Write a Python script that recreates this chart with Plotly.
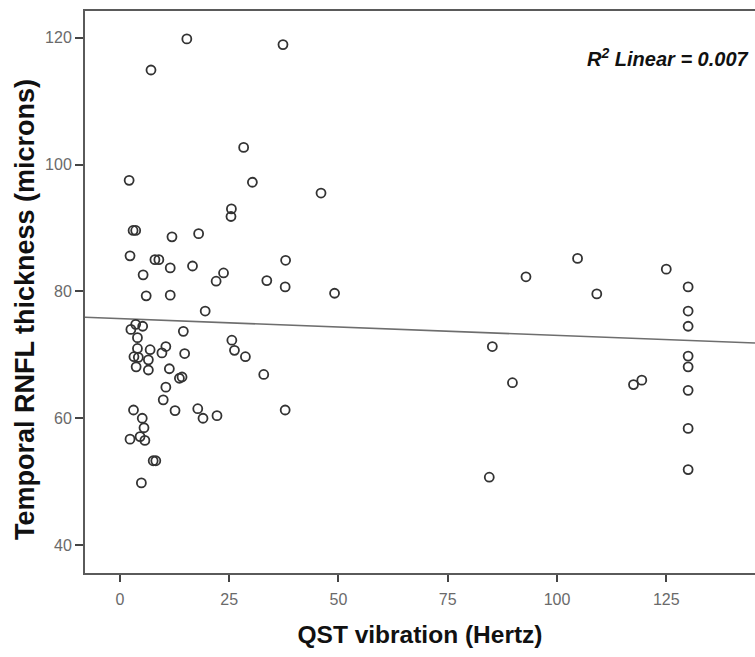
import plotly.graph_objects as go

# QST vibration (Hertz)
qst_hz = [15.3, 37.3, 7.1, 28.3, 2.1, 30.3, 46.0, 25.5, 25.4, 3.0, 3.6, 11.9, 18.0,
          2.3, 8.0, 8.9, 37.9, 11.5, 16.6, 5.3, 22.0, 23.7, 33.6, 37.8, 49.1, 6.0,
          11.5, 19.5, 2.5, 3.6, 5.2, 4.0, 14.5, 25.6, 26.2, 28.7, 32.9, 4.0, 6.9,
          10.5, 9.6, 14.8, 3.2, 4.2, 6.5, 3.7, 6.5, 11.3, 13.6, 14.2, 10.5, 9.9,
          3.1, 12.6, 17.8, 19.0, 22.2, 37.8, 5.1, 5.5, 2.3, 4.6, 5.7, 7.6, 8.2, 4.9,
          104.7, 92.9, 125.0, 109.1, 130.0, 130.0, 130.0, 85.2, 130.0, 130.0, 89.8,
          117.5, 119.4, 130.0, 130.0, 130.0, 84.5]

# Temporal RNFL thickness (microns)
rnfl_um = [119.8, 118.9, 114.9, 102.7, 97.5, 97.2, 95.5, 93.0, 91.8, 89.6, 89.6, 88.6, 89.1,
           85.6, 85.0, 85.0, 84.9, 83.7, 84.0, 82.6, 81.6, 82.9, 81.7, 80.7, 79.7, 79.3,
           79.4, 76.9, 74.0, 74.8, 74.5, 72.7, 73.7, 72.3, 70.7, 69.7, 66.9, 71.0, 70.8,
           71.3, 70.3, 70.2, 69.7, 69.6, 69.2, 68.1, 67.6, 67.8, 66.3, 66.5, 64.9, 62.9,
           61.3, 61.2, 61.5, 60.0, 60.4, 61.3, 60.0, 58.5, 56.7, 57.1, 56.5, 53.3, 53.3, 49.8,
           85.2, 82.3, 83.5, 79.6, 80.7, 76.9, 74.5, 71.3, 69.8, 68.1, 65.6,
           65.3, 66.0, 64.4, 58.4, 51.9, 50.7]

# linear fit
fit_intercept = 75.70
fit_slope = -0.0265
r2_text = "0.007"

x_title = "QST vibration (Hertz)"
y_title = "Temporal RNFL thickness (microns)"

x_ticks = [0, 25, 50, 75, 100, 125]
y_ticks = [40, 60, 80, 100, 120]
x_range = [-8.0, 145.3]
y_range = [35.6, 124.2]

fit_x = x_range
fit_y = [fit_intercept + fit_slope * v for v in fit_x]

fig = go.Figure()
fig.add_trace(go.Scatter(
    x=fit_x, y=fit_y, mode="lines",
    line=dict(color="#6e6e6e", width=1.6),
    hoverinfo="skip", showlegend=False))
fig.add_trace(go.Scatter(
    x=qst_hz, y=rnfl_um, mode="markers",
    marker=dict(symbol="circle-open", size=9, color="#333333", line=dict(width=1.8)),
    showlegend=False))

tick_font = dict(family="Liberation Sans, Arial", size=16, color="#6a6a6a")

fig.update_layout(
    width=755, height=657,
    margin=dict(l=85, r=0, t=11, b=84),
    paper_bgcolor="white", plot_bgcolor="white",
    xaxis=dict(
        range=x_range, tickvals=x_ticks, ticktext=[str(t) for t in x_ticks],
        showgrid=False, zeroline=False,
        showline=True, linecolor="#5a5a5a", linewidth=2, mirror=True,
        ticks="outside", ticklen=7, tickwidth=2, tickcolor="#444",
        tickfont=tick_font, ticklabelstandoff=4,
        title=dict(text="<b>" + x_title + "</b>",
                   font=dict(family="Liberation Sans, Arial", size=24.5, color="#111"),
                   standoff=19),
    ),
    yaxis=dict(
        range=y_range, tickvals=y_ticks, ticktext=[str(t) for t in y_ticks],
        showgrid=False, zeroline=False,
        showline=True, linecolor="#5a5a5a", linewidth=2,
        ticks="outside", ticklen=8, tickwidth=2, tickcolor="#444",
        tickfont=tick_font,
    ),
    annotations=[
        dict(
            x=1.0, y=0.917, xref="paper", yref="paper", xanchor="right", yanchor="middle",
            text="<b><i>R<sup>2</sup> Linear = " + r2_text + "</i></b>",
            showarrow=False, xshift=-4,
            font=dict(family="Liberation Sans, Arial", size=20, color="#111"),
        ),
        dict(
            x=0, y=0.468, xref="paper", yref="paper", xanchor="center", yanchor="middle",
            text="<b>" + y_title + "</b>", textangle=-90, showarrow=False, xshift=-60,
            font=dict(family="Liberation Sans, Arial", size=27, color="#111"),
        ),
    ],
)

fig.write_html("out.html")
